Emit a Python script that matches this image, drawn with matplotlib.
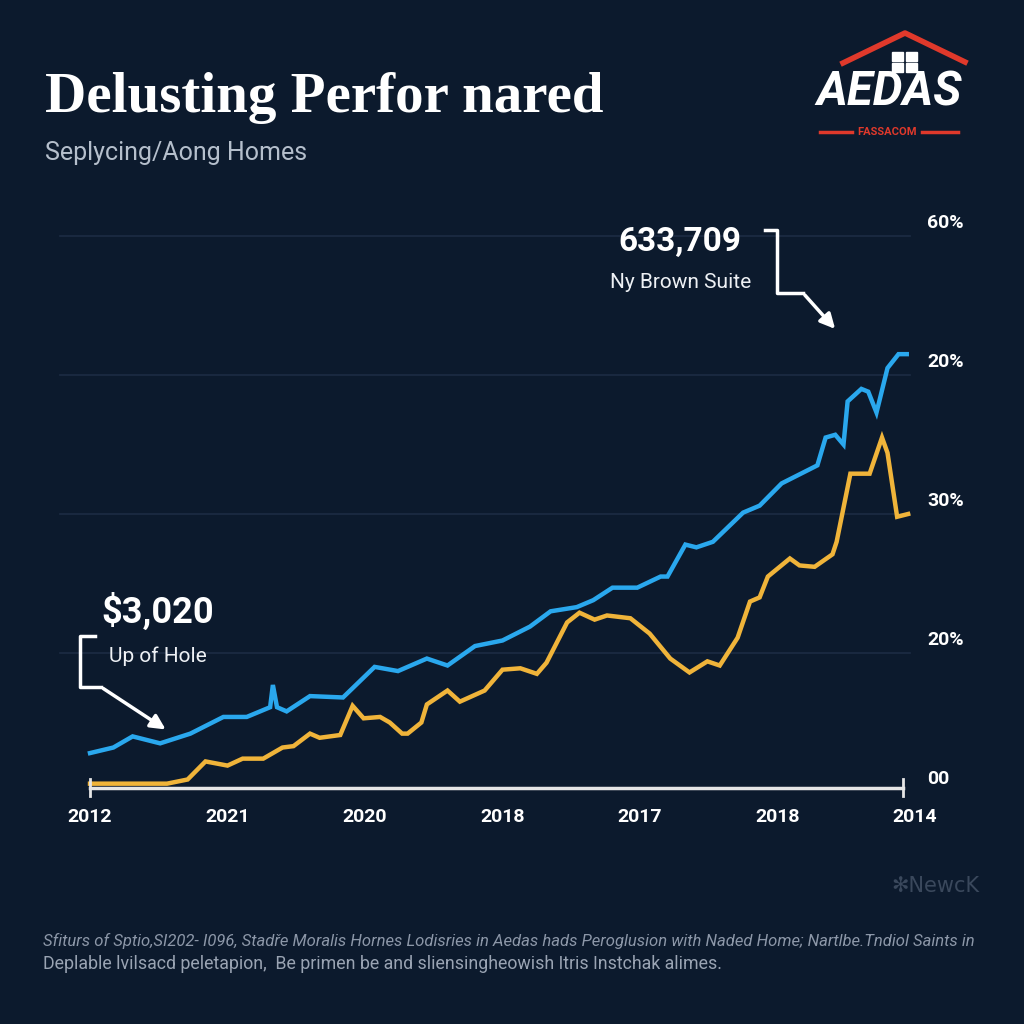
import matplotlib.pyplot as plt
from matplotlib.patches import FancyArrowPatch, Rectangle

# --- data ---
x_labels = ["2012", "2021", "2020", "2018", "2017", "2018", "2014"]
y_labels = ["00", "20%", "30%", "20%", "60%"]

blue_x = [0.00, 0.17, 0.31, 0.51, 0.73, 0.97, 1.14, 1.31, 1.33, 1.36, 1.43, 1.60,
          1.84, 2.07, 2.24, 2.45, 2.60, 2.80, 3.00, 3.20, 3.35, 3.54, 3.66, 3.80,
          3.98, 4.15, 4.20, 4.33, 4.41, 4.53, 4.75, 4.87, 5.03, 5.29, 5.35, 5.42,
          5.48, 5.51, 5.61, 5.66, 5.72, 5.80, 5.88, 5.94]
blue_y = [0.28, 0.32, 0.40, 0.35, 0.42, 0.54, 0.54, 0.61, 0.77, 0.61, 0.58, 0.69,
          0.68, 0.90, 0.87, 0.96, 0.91, 1.05, 1.09, 1.19, 1.30, 1.33, 1.38, 1.47,
          1.47, 1.55, 1.55, 1.78, 1.76, 1.80, 2.01, 2.06, 2.22, 2.35, 2.55, 2.57,
          2.50, 2.81, 2.90, 2.88, 2.73, 3.05, 3.15, 3.15]

gold_x = [0.00, 0.56, 0.71, 0.84, 1.00, 1.11, 1.26, 1.40, 1.48, 1.60, 1.67, 1.82,
          1.91, 1.99, 2.11, 2.18, 2.27, 2.31, 2.41, 2.45, 2.60, 2.69, 2.87, 3.00,
          3.13, 3.25, 3.32, 3.47, 3.56, 3.67, 3.76, 3.93, 4.07, 4.22, 4.36, 4.49,
          4.58, 4.71, 4.80, 4.87, 4.93, 5.09, 5.16, 5.27, 5.40, 5.43, 5.53, 5.67,
          5.76, 5.80, 5.87, 5.95]
gold_y = [0.06, 0.06, 0.09, 0.22, 0.19, 0.24, 0.24, 0.32, 0.33, 0.42, 0.39, 0.41,
          0.62, 0.53, 0.54, 0.50, 0.42, 0.42, 0.50, 0.63, 0.73, 0.65, 0.73, 0.88,
          0.89, 0.85, 0.93, 1.22, 1.29, 1.24, 1.27, 1.25, 1.14, 0.96, 0.86, 0.94,
          0.91, 1.11, 1.37, 1.40, 1.55, 1.68, 1.63, 1.62, 1.71, 1.80, 2.29, 2.29,
          2.55, 2.44, 1.98, 2.00]

BG = "#0c1a2d"
BLUE = "#2aa8ee"
GOLD = "#f0b43a"
RED = "#e0392b"
WHITE = "#ffffff"

fig = plt.figure(figsize=(10.24, 10.24), dpi=100, facecolor=BG)
ax = fig.add_axes([0, 0, 1, 1])
ax.set_facecolor(BG)
# one data unit = 137.5 px across, 139 px up; origin at pixel (90, 792)
ax.set_xlim(-90 / 137.5, (1024 - 90) / 137.5)
ax.set_ylim(-232 / 139, 792 / 139)
ax.axis("off")


def P(px, py):
    # pixel position -> figure fraction, for decorations
    return px / 1024, 1 - py / 1024


# grid lines
for i in range(1, len(y_labels)):
    ax.plot([-0.22, 5.96], [i, i], color="#1c2c43", lw=1.2, zorder=1)

# series
ax.plot(gold_x, gold_y, color=GOLD, lw=3.2, solid_joinstyle="miter", zorder=3)
ax.plot(blue_x, blue_y, color=BLUE, lw=3.2, solid_joinstyle="miter", zorder=4)

# baseline with end caps
ax.plot([0, 5.91], [0.03, 0.03], color="#e6e6e6", lw=2.5, zorder=5)
for xe in (0, 5.91):
    ax.plot([xe, xe], [-0.03, 0.09], color="#e6e6e6", lw=2, zorder=5)

# tick labels
for i, lab in enumerate(x_labels):
    ax.text(i, -0.18, lab, color=WHITE, fontsize=14, fontweight="bold",
            family="Roboto", ha="center", va="center")
for i, lab in enumerate(y_labels):
    ax.text(6.09, i + 0.09, lab, color=WHITE, fontsize=14, fontweight="bold",
            family="Roboto", ha="left", va="center")

# title block
fig.text(*P(45, 98), "Delusting Perfor nared", color=WHITE, fontsize=41,
         fontweight="bold", family="Liberation Serif", ha="left", va="center")
fig.text(*P(45, 153), "Seplycing/Aong Homes", color="#b5bfcc", fontsize=18,
         family="Roboto", ha="left", va="center")

# logo
roof = [P(843, 63), P(905, 33), P(965, 62)]
fig.lines.append(plt.Line2D([p[0] for p in roof], [p[1] for p in roof],
                            color=RED, lw=4, transform=fig.transFigure))
for wx, wy in [(892, 52), (906, 52), (892, 63), (906, 63)]:
    fx, fy = P(wx, wy + 9)
    fig.patches.append(Rectangle((fx, fy), 11 / 1024, 9 / 1024, color=WHITE,
                                 transform=fig.transFigure))
fig.text(*P(889, 92), "AEDAS", color=WHITE, fontsize=34, fontweight="bold",
         style="italic", family="Roboto", ha="center", va="center")
for xa, xb in [(820, 852), (922, 958)]:
    fig.lines.append(plt.Line2D([xa / 1024, xb / 1024], [1 - 132 / 1024] * 2,
                                color=RED, lw=2.5, transform=fig.transFigure))
fig.text(*P(887, 132), "FASSACOM", color=RED, fontsize=8, fontweight="bold",
         family="Roboto", ha="center", va="center")

# annotation top right
fig.text(*P(680, 242), "633,709", color=WHITE, fontsize=24, fontweight="bold",
         family="Roboto", ha="center", va="center")
fig.text(*P(681, 283), "Ny Brown Suite", color="#eef1f5", fontsize=15,
         family="Roboto", ha="center", va="center")
br1 = [P(765, 230), P(777, 230), P(777, 293), P(803, 293)]
fig.lines.append(plt.Line2D([p[0] for p in br1], [p[1] for p in br1],
                            color=WHITE, lw=2.5, transform=fig.transFigure))
fig.patches.append(FancyArrowPatch(P(803, 293), P(837, 331), arrowstyle="-|>",
                                   mutation_scale=22, lw=2.5, color=WHITE,
                                   transform=fig.transFigure))

# annotation bottom left
fig.text(*P(158, 612), "$3,020", color=WHITE, fontsize=26, fontweight="bold",
         family="Roboto", ha="center", va="center")
fig.text(*P(158, 656), "Up of Hole", color="#eef1f5", fontsize=15,
         family="Roboto", ha="center", va="center")
br2 = [P(95, 636), P(80, 636), P(80, 687), P(101, 687)]
fig.lines.append(plt.Line2D([p[0] for p in br2], [p[1] for p in br2],
                            color=WHITE, lw=2.5, transform=fig.transFigure))
fig.patches.append(FancyArrowPatch(P(101, 687), P(168, 731), arrowstyle="-|>",
                                   mutation_scale=22, lw=2.5, color=WHITE,
                                   transform=fig.transFigure))

# watermark and footnote
fig.text(*P(935, 886), "\u273bNewcK", color="#3a485c", fontsize=15,
         family="DejaVu Sans", ha="center", va="center")
fig.text(*P(43, 941),
         "Sfiturs of Sptio,SI202- I096, Stadře Moralis Hornes Lodisries in Aedas "
         "hads Peroglusion with Naded Home; Nartlbe.Tndiol Saints in",
         color="#8c97a8", fontsize=12, style="italic", family="Roboto",
         ha="left", va="center")
fig.text(*P(43, 964),
         "Deplable lvilsacd peletapion,  Be primen be and sliensingheowish "
         "Itris Instchak alimes.",
         color="#9aa4b3", fontsize=12.8, family="Roboto", ha="left", va="center")

fig.savefig("out.png", dpi=100, facecolor=BG)
